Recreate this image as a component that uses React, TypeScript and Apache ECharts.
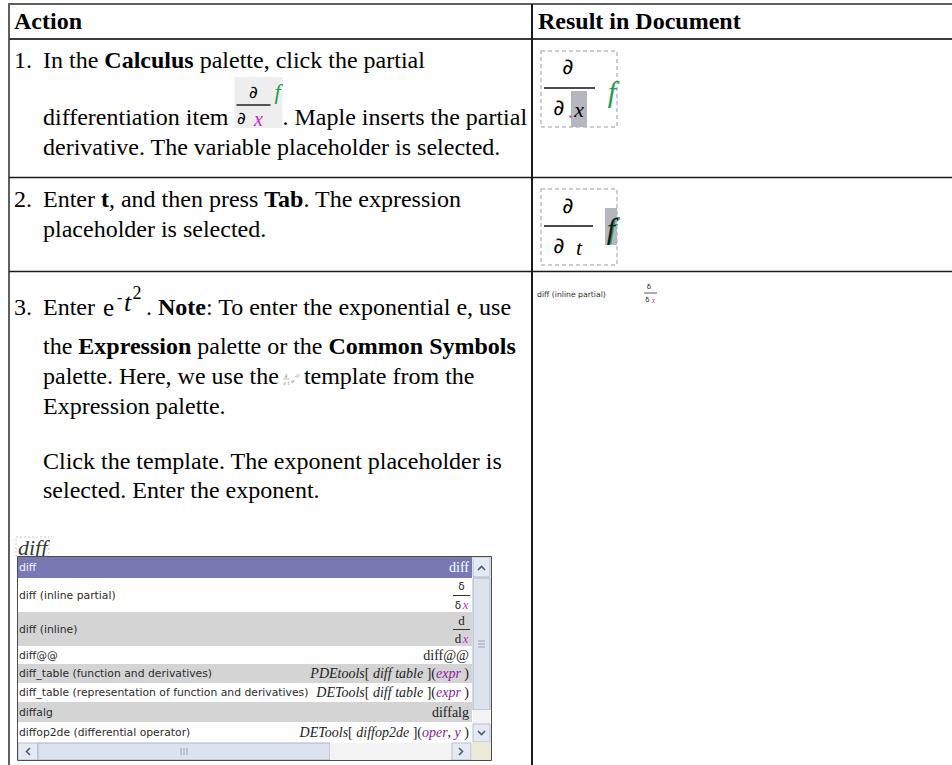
import React, { useEffect, useRef } from "react";
import * as echarts from "echarts";

const SERIF = '"Liberation Serif", "Times New Roman", serif';
const SANS = '"DejaVu Sans", Tahoma, sans-serif';
const MATH = '"DejaVu Sans", sans-serif';
const MAGENTA = "#d01cd0";
const PURPLE = "#8b1a9b";
const GREEN = "#1f9d4e";

type Run = { t: string; b?: boolean; i?: boolean; c?: string };

// ---------------- content ----------------
const headerTitles = ["Action", "Result in Document"];
const stepNumbers = ["1.", "2.", "3."];

const step1Line1: Run[] = [{ t: "In the " }, { t: "Calculus", b: true }, { t: " palette, click the partial" }];
const step1Line2a: Run[] = [{ t: "differentiation item " }];
const step1Line2b: Run[] = [{ t: ". Maple inserts the partial" }];
const step1Line3: Run[] = [{ t: "derivative. The variable placeholder is selected." }];

const step2Line1: Run[] = [
  { t: "Enter " }, { t: "t", b: true }, { t: ", and then press " }, { t: "Tab", b: true }, { t: ". The expression" },
];
const step2Line2: Run[] = [{ t: "placeholder is selected." }];

const step3Line1a: Run[] = [{ t: "Enter " }];
const step3Line1b: Run[] = [{ t: ". " }, { t: "Note", b: true }, { t: ": To enter the exponential e, use" }];
const step3Line2: Run[] = [
  { t: "the " }, { t: "Expression", b: true }, { t: " palette or the " }, { t: "Common Symbols", b: true },
];
const step3Line3a: Run[] = [{ t: "palette. Here, we use the " }];
const step3Line3b: Run[] = [{ t: " template from the" }];
const step3Line4: Run[] = [{ t: "Expression palette." }];
const step3Line5: Run[] = [{ t: "Click the template. The exponent placeholder is" }];
const step3Line6: Run[] = [{ t: "selected. Enter the exponent." }];

const typedWord = "diff";
const resultLabel3 = "diff (inline partial)";

const listLabels = [
  "diff",
  "diff (inline partial)",
  "diff (inline)",
  "diff@@",
  "diff_table (function and derivatives)",
  "diff_table (representation of function and derivatives)",
  "diffalg",
  "diffop2de (differential operator)",
];
const listRight: (Run[] | null)[] = [
  [{ t: "diff", c: "#ffffff" }],
  null,
  null,
  [{ t: "diff@@" }],
  [{ t: "PDEtools", i: true }, { t: "[ " }, { t: "diff table", i: true }, { t: " ](" }, { t: "expr", i: true, c: PURPLE }, { t: " )" }],
  [{ t: "DETools", i: true }, { t: "[ " }, { t: "diff table", i: true }, { t: " ](" }, { t: "expr", i: true, c: PURPLE }, { t: " )" }],
  [{ t: "diffalg" }],
  [{ t: "DETools", i: true }, { t: "[ " }, { t: "diffop2de", i: true }, { t: " ](" }, { t: "oper", i: true, c: PURPLE }, { t: ", " }, { t: "y", i: true, c: PURPLE }, { t: " )" }],
];
const listFractions: (string[] | null)[] = [null, ["δ", "δ", "x"], ["d", "d", "x"], null, null, null, null, null];

// ---------------- helpers ----------------
const ctxHolder: { c: CanvasRenderingContext2D | null } = { c: null };
function measure(text: string, size: number, fam: string, b?: boolean, i?: boolean) {
  if (!ctxHolder.c) ctxHolder.c = document.createElement("canvas").getContext("2d");
  const c = ctxHolder.c!;
  c.font = `${i ? "italic " : ""}${b ? "bold " : ""}${size}px ${fam}`;
  return c.measureText(text).width;
}

function T(
  x: number, y: number, text: string, size: number,
  opt: { fam?: string; b?: boolean; i?: boolean; c?: string; align?: string } = {}
) {
  const align = opt.align || "left";
  return {
    type: "text", x, y, silent: true,
    style: {
      text, fill: opt.c || "#000", fontSize: size, fontFamily: opt.fam || SERIF,
      fontWeight: opt.b ? "bold" : "normal", fontStyle: opt.i ? "italic" : "normal",
      align, verticalAlign: "middle", textAlign: align, textVerticalAlign: "middle",
    },
  };
}
function R(x: number, y: number, w: number, h: number, fill: string, stroke?: string, lw = 1, dash?: number[]) {
  return {
    type: "rect", silent: true, shape: { x, y, width: w, height: h },
    style: { fill, stroke: stroke || "none", lineWidth: stroke ? lw : 0, lineDash: dash || null },
  };
}
function L(x1: number, y1: number, x2: number, y2: number, stroke: string, lw = 1) {
  return { type: "line", silent: true, shape: { x1, y1, x2, y2 }, style: { stroke, lineWidth: lw } };
}
function P(points: number[][], stroke: string, lw = 1.6) {
  return { type: "polyline", silent: true, shape: { points }, style: { stroke, lineWidth: lw, fill: "none" } };
}
function runs(els: any[], x: number, y: number, rs: Run[], size: number, fam: string, color = "#000") {
  for (const r of rs) {
    const body = r.t.trimStart();
    const lead = r.t.slice(0, r.t.length - body.length);
    const lw = lead ? measure(lead, size, fam, r.b, r.i) : 0;
    if (body.trim().length) els.push(T(x + lw, y, body.trimEnd(), size, { fam, b: r.b, i: r.i, c: r.c || color }));
    x += measure(r.t, size, fam, r.b, r.i);
  }
  return x;
}
function runsWidth(rs: Run[], size: number, fam: string) {
  return rs.reduce((s, r) => s + measure(r.t, size, fam, r.b, r.i), 0);
}

function build() {
  const els: any[] = [];
  els.push(R(0, 0, 952, 765, "#ffffff"));

  // ---- table rules ----
  els.push(L(8, 4, 952, 4, "#5f5f5f", 2));
  els.push(L(9, 3, 9, 765, "#5f5f5f", 2));
  els.push(L(9, 39, 952, 39, "#3a3a3a", 2));
  els.push(L(9, 177.5, 952, 177.5, "#1a1a1a", 1.6));
  els.push(L(9, 271.5, 952, 271.5, "#1a1a1a", 1.6));
  els.push(L(532, 4, 532, 765, "#1a1a1a", 2));

  // ---- header ----
  els.push(T(14, 21, headerTitles[0], 24, { b: true }));
  els.push(T(538, 21, headerTitles[1], 24, { b: true }));

  const NX = 14, TX = 43, FS = 24;

  // ---- step 1 ----
  els.push(T(NX, 59.5, stepNumbers[0], FS));
  runs(els, TX, 59.5, step1Line1, FS, SERIF);
  let x = runs(els, TX, 117, step1Line2a, FS, SERIF);
  const x0 = x;
  els.push(R(x0, 77, 48, 51, "#eeeeee"));
  els.push(T(x0 + 19, 92, "∂", 17, { fam: MATH, align: "center" }));
  els.push(L(x0 + 2, 105, x0 + 36, 105, "#222", 1.3));
  els.push(T(x0 + 7, 117.5, "∂", 17, { fam: MATH, align: "center" }));
  els.push(T(x0 + 24, 119, "x", 20, { i: true, c: MAGENTA, align: "center" }));
  els.push(T(x0 + 43, 91, "f", 22, { i: true, c: GREEN, align: "center" }));
  runs(els, x0 + 48, 117, step1Line2b, FS, SERIF);
  runs(els, TX, 147, step1Line3, FS, SERIF);

  // ---- step 2 ----
  els.push(T(NX, 199, stepNumbers[1], FS));
  runs(els, TX, 199, step2Line1, FS, SERIF);
  runs(els, TX, 228.5, step2Line2, FS, SERIF);

  // ---- step 3 ----
  const y3 = 307;
  els.push(T(NX, y3, stepNumbers[2], FS));
  x = runs(els, TX, y3, step3Line1a, FS, SERIF);
  const ex = x + 2;
  els.push(T(ex, y3, "e", 25));
  els.push(T(ex + 14, 297, "-", 16));
  els.push(T(ex + 21, 302, "t", 26, { i: true }));
  els.push(T(ex + 29.5, 293, "2", 18));
  runs(els, ex + 43, y3, step3Line1b, FS, SERIF);
  runs(els, TX, 346, step3Line2, FS, SERIF);
  x = runs(els, TX, 376, step3Line3a, FS, SERIF);
  const ix = x - 2;
  const gc = "#8c8c8c";
  els.push(T(ix + 3, 375.5, "∂", 5.5, { fam: MATH, c: gc, align: "center" }));
  els.push(L(ix + 0.5, 379, ix + 6.5, 379, gc, 0.6));
  els.push(T(ix + 3.5, 382.5, "∂ t", 5, { fam: MATH, c: gc, align: "center" }));
  els.push(T(ix + 8, 380.5, "e", 7, { c: gc }));
  els.push(T(ix + 11.5, 376, "-t²", 5.5, { i: true, c: gc }));
  runs(els, ix + 15, 376, step3Line3b, FS, SERIF);
  runs(els, TX, 406, step3Line4, FS, SERIF);
  runs(els, TX, 461, step3Line5, FS, SERIF);
  runs(els, TX, 490, step3Line6, FS, SERIF);

  // typed word
  els.push(R(16, 537, 33, 19, "none", "#c8c8c8", 1, [2, 2]));
  els.push(T(18, 547.5, typedWord, 22, { i: true, c: "#3a3a3a" }));

  // ---- completion list ----
  const LX = 18, LR = 472;
  const tops = [556.5, 578, 612, 646, 664, 683, 702, 722, 742];
  const fills = ["#7878b2", "#ffffff", "#d4d4d4", "#ffffff", "#d4d4d4", "#ffffff", "#d4d4d4", "#ffffff"];
  const RX = 469;
  listLabels.forEach((lab, i) => {
    const t0 = tops[i], t1 = tops[i + 1];
    const mid = (t0 + t1) / 2;
    els.push(R(LX, t0, LR - LX, t1 - t0, fills[i]));
    els.push(T(19, mid, lab, 10.8, { fam: SANS, c: i === 0 ? "#f4f4ff" : "#2c2c2c" }));
    const rr = listRight[i];
    if (rr) {
      const w = runsWidth(rr, 14, SERIF);
      runs(els, RX - w, mid, rr, 14, SERIF, "#222");
    }
    const fr = listFractions[i];
    if (fr) {
      const isD = fr[0] === "d";
      const fam = isD ? SERIF : MATH;
      const sz = isD ? 13 : 10.5;
      els.push(T(461.5, t0 + 8, fr[0], sz, { fam, c: "#222", align: "center" }));
      els.push(L(453, t0 + 17.5, 470, t0 + 17.5, "#333", 1));
      els.push(T(458, t0 + 26.5, fr[1], sz, { fam, c: "#222", align: "center" }));
      els.push(T(465.5, t0 + 26.5, fr[2], 12.5, { i: true, c: MAGENTA, align: "center" }));
    }
  });

  // vertical scrollbar
  const SX = 473, SW = 17;
  const btnFill = "#e4e9f3", btnStroke = "#b3bdd0", arrow = "#4a5a7a";
  els.push(R(SX, 557, SW, 20, btnFill, btnStroke));
  els.push(P([[SX + 5, 570], [SX + 8.5, 566.5], [SX + 12, 570]], arrow));
  els.push(R(SX, 578, SW, 132, "#dde3ee", "#a9b4c8"));
  [641, 644, 647].forEach((gy) => els.push(L(SX + 5, gy, SX + 12, gy, "#98a4ba", 1)));
  els.push(R(SX, 710, SW, 14, "#f3f3f3"));
  els.push(R(SX, 724, SW, 18, btnFill, btnStroke));
  els.push(P([[SX + 5, 731], [SX + 8.5, 734.5], [SX + 12, 731]], arrow));
  // horizontal scrollbar
  els.push(R(18, 743, 20, 17, btnFill, btnStroke));
  els.push(P([[30, 748], [26.5, 751.5], [30, 755]], arrow));
  els.push(R(38, 743, 292, 17, "#dde3ee", "#a9b4c8"));
  [181, 184, 187].forEach((gx) => els.push(L(gx, 748, gx, 755, "#98a4ba", 1)));
  els.push(R(330, 743, 122, 17, "#f3f3f3"));
  els.push(R(452, 743, 19, 17, btnFill, btnStroke));
  els.push(P([[459, 748], [462.5, 751.5], [459, 755]], arrow));
  els.push(R(472, 742, 19, 18, "#ece9d8"));
  els.push(R(17.5, 556.5, 474, 204, "none", "#4d4d4d", 1));

  // ---- result column ----
  // row 1
  els.push(R(541, 51, 76, 76, "none", "#bdbdbd", 1.5, [4, 3]));
  els.push(T(568, 66, "∂", 22, { fam: MATH, align: "center" }));
  els.push(L(544, 88, 595, 88, "#111", 1.5));
  els.push(T(559, 107, "∂", 22, { fam: MATH, align: "center" }));
  els.push(R(571, 91, 16, 36, "#b6b6be"));
  els.push(T(579, 109, "x", 22, { i: true, align: "center" }));
  els.push(R(569.5, 115.5, 2, 2, MAGENTA));
  els.push(T(612, 91, "f", 30, { i: true, c: GREEN, align: "center" }));
  // row 2
  els.push(R(541, 189, 76, 76, "none", "#bdbdbd", 1.5, [4, 3]));
  els.push(T(568, 205, "∂", 22, { fam: MATH, align: "center" }));
  els.push(L(544, 226, 593, 226, "#111", 1.5));
  els.push(T(559, 245.5, "∂", 22, { fam: MATH, align: "center" }));
  els.push(T(579, 247, "t", 22, { i: true, align: "center" }));
  els.push(R(605, 208, 12, 37, "#b6b6be"));
  els.push(T(612.5, 227, "f", 30, { i: true, c: GREEN, align: "center" }));
  els.push(T(611, 228, "f", 30, { i: true, c: "#1a1a1a", align: "center" }));
  // row 3
  els.push(T(537, 294, resultLabel3, 7.7, { fam: SANS, c: "#2e2e2e" }));
  els.push(T(649, 286.5, "δ", 7, { fam: MATH, c: "#222", align: "center" }));
  els.push(L(644, 293, 657, 293, "#333", 0.8));
  els.push(T(647.5, 300, "δ", 7, { fam: MATH, c: "#222", align: "center" }));
  els.push(T(653.5, 300, "x", 7.5, { i: true, c: MAGENTA, align: "center" }));

  return els;
}

export default function App() {
  const ref = useRef<HTMLDivElement>(null);
  useEffect(() => {
    if (!ref.current) return;
    const chart = echarts.init(ref.current, null, { renderer: "svg" });
    chart.setOption({ animation: false, graphic: { elements: build() } });
    return () => chart.dispose();
  }, []);
  return (
    <div
      ref={ref}
      style={{ position: "fixed", left: 0, top: 0, width: 952, height: 765, background: "#fff" }}
    />
  );
}
